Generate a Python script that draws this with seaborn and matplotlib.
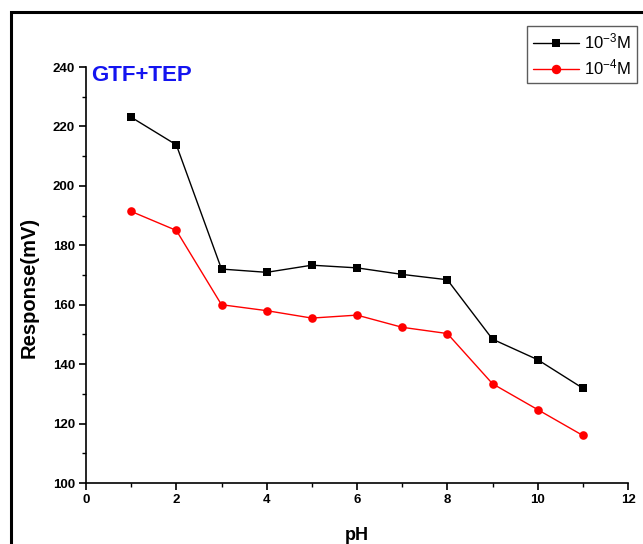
import matplotlib
matplotlib.use("Agg")
import matplotlib.pyplot as plt
import seaborn as sns
import pandas as pd
from matplotlib.patches import Rectangle
from matplotlib.lines import Line2D
from matplotlib.ticker import MultipleLocator

ph = [1, 2, 3, 4, 5, 6, 7, 8, 9, 10, 11]
resp_1e3 = [223.1, 213.8, 172.0, 170.9, 173.3, 172.4, 170.2, 168.4, 148.4, 141.5, 131.9]
resp_1e4 = [191.4, 185.0, 160.0, 158.0, 155.5, 156.5, 152.4, 150.3, 133.4, 124.7, 116.0]
labels = ["10$^{-3}$M", "10$^{-4}$M"]
x_ticks = [0, 2, 4, 6, 8, 10, 12]
y_ticks = [100, 120, 140, 160, 180, 200, 220, 240]

sns.set_style("ticks")
plt.rcParams["font.family"] = ["Liberation Sans", "DejaVu Sans"]
plt.rcParams["mathtext.fontset"] = "custom"
plt.rcParams["mathtext.rm"] = "Liberation Sans"
plt.rcParams["mathtext.default"] = "regular"
for k in ["text.color", "axes.labelcolor", "xtick.color", "ytick.color", "axes.edgecolor"]:
    plt.rcParams[k] = "black"

df = pd.DataFrame({
    "pH": ph * 2,
    "Response": resp_1e3 + resp_1e4,
    "series": [labels[0]] * len(ph) + [labels[1]] * len(ph),
})

fig = plt.figure(figsize=(6.43, 5.44), dpi=100)
ax = fig.add_axes([86/643, 1-483/544, (628-86)/643, (483-67)/544])

sns.lineplot(data=df, x="pH", y="Response", hue="series", style="series",
             palette={labels[0]: "black", labels[1]: "red"},
             markers={labels[0]: "s", labels[1]: "o"}, dashes=False,
             markersize=6.2, markeredgewidth=0, linewidth=1.0, ax=ax, legend=False)

ax.set_xlim(0, 12)
ax.set_ylim(100, 240)
ax.set_xticks(x_ticks)
ax.set_yticks(y_ticks)
ax.xaxis.set_minor_locator(MultipleLocator(1))
ax.yaxis.set_minor_locator(MultipleLocator(10))
ax.tick_params(which="major", direction="out", length=5, width=1.2, labelsize=9.5, pad=3)
ax.tick_params(which="minor", direction="out", length=3, width=1.0)
for lab in ax.get_xticklabels() + ax.get_yticklabels():
    lab.set_fontweight("bold")
for s in ["top", "right"]:
    ax.spines[s].set_visible(False)
for s in ["left", "bottom"]:
    ax.spines[s].set_linewidth(1.2)
    ax.spines[s].set_color("black")

ax.set_xlabel("pH", fontsize=13, fontweight="bold", labelpad=15)
ax.set_ylabel("Response(mV)", fontsize=14.5, fontweight="bold")
ax.yaxis.set_label_coords((39-86)/542, (483-287)/416)

fig.text(91/643, 1-75/544, "GTF+TEP", color="#1414f0", fontsize=16,
         fontweight="bold", ha="left", va="center")

handles = [
    Line2D([], [], color="black", marker="s", markersize=6.2, markeredgewidth=0, linewidth=1.0),
    Line2D([], [], color="red", marker="o", markersize=6.8, markeredgewidth=0, linewidth=1.0),
]
leg = fig.legend(handles, labels, loc="upper right", bbox_to_anchor=(637/643, 1-26/544),
                 fontsize=12, frameon=True, fancybox=False, handlelength=2.8,
                 borderpad=0.35, labelspacing=0.35, handletextpad=0.3, borderaxespad=0)
leg.get_frame().set_edgecolor("#333333")
leg.get_frame().set_linewidth(1.0)

fig.patches.append(Rectangle((11/643, -0.1), 1.2, 1-12/544+0.1, transform=fig.transFigure,
                             fill=False, edgecolor="black", linewidth=2.2))

fig.savefig("out.png", dpi=100)
